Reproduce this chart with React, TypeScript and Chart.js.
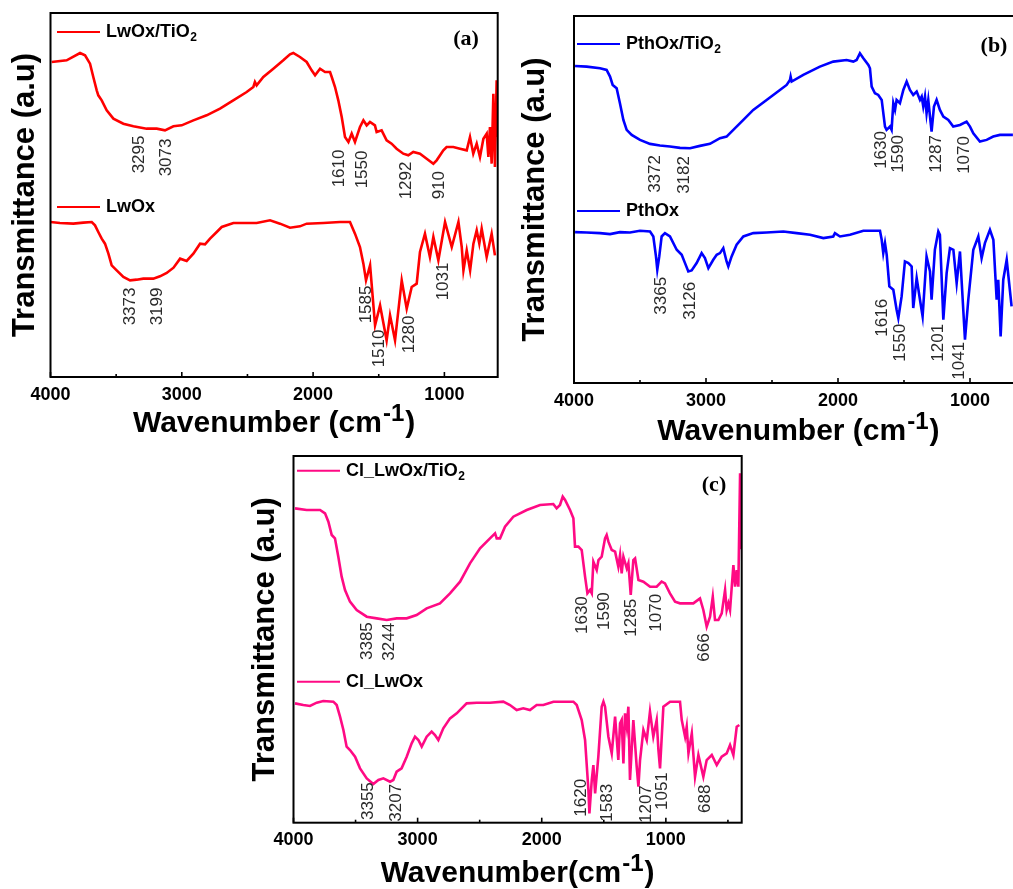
import { useEffect, useRef } from "react";
import { Chart, registerables } from "chart.js";

Chart.register(...registerables);

type Pt = [number, number];
type Peak = [string, number, number];

// ---------------- DATA ----------------
// Panel (a)
const LWOX_TIO2: Pt[] = [
  [3991, 94.5], [3877, 95.0], [3775, 97.2], [3737, 96.5], [3699, 94.0], [3674, 90.0], [3648, 86.0], [3636, 84.5],
  [3610, 83.0], [3572, 80.0], [3521, 77.5], [3445, 76.0], [3369, 75.2], [3268, 74.5], [3191, 74.5], [3128, 74.0],
  [3064, 75.2], [3001, 75.5], [2912, 77.0], [2811, 78.5], [2709, 80.5], [2608, 83.0], [2506, 85.5], [2455, 87.0],
  [2443, 88.5], [2430, 87.5], [2379, 90.0], [2303, 92.5], [2227, 95.0], [2176, 96.8], [2151, 97.2], [2100, 96.0],
  [2049, 94.5], [2011, 92.0], [1985, 90.5], [1947, 92.5], [1909, 91.5], [1871, 91.5], [1858, 90.0], [1833, 87.0],
  [1808, 83.0], [1782, 78.0], [1757, 72.0], [1731, 70.5], [1706, 73.0], [1681, 70.5], [1643, 75.0], [1617, 77.0],
  [1592, 75.5], [1567, 76.5], [1529, 75.5], [1516, 73.5], [1478, 74.0], [1440, 71.0], [1402, 70.0], [1364, 68.5],
  [1313, 67.0], [1275, 66.5], [1237, 67.5], [1186, 67.0], [1135, 65.5], [1084, 64.0], [1059, 65.0], [1033, 66.5],
  [1008, 68.0], [983, 69.0], [932, 69.0], [881, 68.5], [830, 68.0], [805, 72.0], [780, 67.0], [754, 70.0],
  [729, 66.0], [703, 71.5], [678, 73.0], [665, 66.0], [653, 75.0], [640, 64.0], [627, 85.0], [615, 63.0],
  [602, 89.0], [594, 72.0],
];
const LWOX: Pt[] = [
  [4000, 46.5], [3928, 46.2], [3826, 46.0], [3750, 46.3], [3686, 46.5], [3661, 45.5], [3636, 43.5], [3610, 41.5],
  [3585, 40.0], [3559, 37.0], [3534, 33.5], [3496, 32.0], [3445, 30.0], [3394, 29.0], [3344, 29.2], [3293, 29.5],
  [3217, 29.5], [3166, 30.2], [3115, 31.2], [3063, 32.8], [3013, 35.5], [2963, 34.8], [2912, 37.0], [2861, 40.0],
  [2823, 39.8], [2785, 41.5], [2734, 43.5], [2696, 45.0], [2607, 46.2], [2506, 46.2], [2430, 46.2], [2328, 47.0],
  [2252, 46.0], [2176, 44.8], [2100, 45.2], [2049, 46.0], [1922, 46.2], [1795, 46.5], [1719, 46.5], [1681, 43.0],
  [1643, 39.0], [1617, 34.0], [1597, 29.0], [1566, 33.5], [1528, 15.5], [1490, 21.5], [1440, 11.0], [1414, 18.5],
  [1376, 11.0], [1325, 29.0], [1287, 20.5], [1249, 27.0], [1211, 28.0], [1186, 37.5], [1148, 43.0], [1110, 36.0],
  [1084, 42.0], [1046, 35.0], [995, 46.5], [944, 39.0], [893, 46.5], [868, 39.0], [855, 32.0], [830, 38.0],
  [804, 32.0], [779, 40.0], [754, 44.0], [734, 40.0], [716, 44.5], [678, 36.0], [640, 43.0], [615, 36.5],
];
const PEAKS_A: Peak[] = [
  ["3295", 3326, 61.1], ["3073", 3115, 60.2], ["1610", 1803, 56.9], ["1550", 1628, 56.6], ["1292", 1293, 53.3],
  ["910", 1041, 53.3], ["3373", 3395, 15.5], ["3199", 3189, 15.5], ["1585", 1597, 16.1], ["1510", 1498, 2.9],
  ["1280", 1270, 7.1], ["1031", 1009, 23.0],
];

// Panel (b)
const PTHOX_TIO2: Pt[] = [
  [3992, 95.2], [3904, 95.0], [3803, 94.5], [3753, 94.0], [3727, 92.0], [3707, 89.5], [3677, 88.5], [3652, 84.0],
  [3626, 79.0], [3601, 76.0], [3563, 74.5], [3500, 73.0], [3424, 71.8], [3349, 71.3], [3273, 71.0], [3197, 70.6],
  [3121, 70.5], [3046, 71.2], [2970, 71.8], [2894, 73.5], [2844, 74.0], [2793, 76.0], [2717, 79.0], [2642, 82.0],
  [2541, 85.0], [2440, 88.0], [2389, 89.5], [2364, 91.0], [2359, 92.0], [2351, 90.5], [2263, 92.5], [2137, 95.0],
  [2036, 96.5], [1935, 97.0], [1884, 96.5], [1859, 97.0], [1834, 99.0], [1808, 97.5], [1770, 95.5], [1758, 94.5],
  [1745, 89.0], [1720, 87.0], [1695, 86.5], [1669, 85.0], [1644, 77.0], [1632, 76.0], [1606, 77.0], [1594, 76.0],
  [1581, 84.0], [1568, 82.0], [1556, 85.0], [1531, 84.0], [1505, 88.0], [1480, 90.5], [1455, 88.0], [1430, 86.5],
  [1404, 87.5], [1379, 85.0], [1366, 86.0], [1354, 83.0], [1341, 86.0], [1329, 81.0], [1316, 85.0], [1291, 75.5],
  [1273, 83.0], [1253, 85.0], [1228, 82.0], [1202, 80.0], [1164, 79.0], [1127, 77.0], [1076, 77.5], [1026, 78.5],
  [1000, 77.0], [975, 75.0], [925, 72.5], [874, 73.0], [824, 74.0], [773, 74.5], [722, 74.5], [675, 74.5],
];
const PTHOX: Pt[] = [
  [3992, 45.3], [3904, 45.2], [3803, 45.0], [3727, 44.7], [3652, 45.3], [3576, 45.2], [3500, 45.7], [3424, 45.5],
  [3399, 44.0], [3379, 38.0], [3369, 34.0], [3354, 38.0], [3336, 44.0], [3311, 45.0], [3273, 44.0], [3222, 40.0],
  [3184, 38.5], [3159, 36.0], [3134, 33.5], [3109, 33.8], [3071, 36.0], [3033, 39.0], [3008, 37.5], [2982, 34.5],
  [2945, 37.0], [2919, 38.5], [2894, 39.0], [2869, 40.5], [2844, 36.5], [2831, 35.0], [2806, 38.0], [2768, 41.5],
  [2717, 44.0], [2642, 45.0], [2541, 45.2], [2414, 45.5], [2313, 45.0], [2212, 44.5], [2111, 43.5], [2036, 44.0],
  [2023, 45.0], [1985, 44.0], [1909, 44.5], [1808, 45.7], [1682, 45.7], [1669, 43.0], [1657, 39.0], [1644, 42.0],
  [1631, 38.5], [1611, 29.0], [1581, 28.0], [1556, 22.0], [1543, 19.5], [1518, 26.0], [1493, 36.5], [1467, 36.0],
  [1442, 35.0], [1430, 22.5], [1404, 31.5], [1379, 25.0], [1359, 20.0], [1329, 38.0], [1303, 33.5], [1291, 25.0],
  [1266, 40.0], [1240, 45.5], [1228, 44.5], [1202, 19.0], [1177, 33.0], [1152, 40.5], [1126, 40.0], [1101, 30.0],
  [1076, 39.5], [1051, 22.0], [1038, 13.0], [1013, 25.0], [975, 40.0], [937, 44.0], [912, 37.5], [887, 42.0],
  [849, 46.0], [823, 43.0], [798, 25.0], [786, 31.0], [768, 14.0], [748, 31.0], [722, 37.0], [685, 23.0],
];
const PEAKS_B: Peak[] = [
  ["3372", 3386, 57.1], ["3182", 3167, 56.8], ["1630", 1674, 64.3], ["1590", 1545, 63.1], ["1287", 1258, 63.1],
  ["1070", 1045, 62.8], ["3365", 3341, 20.5], ["3126", 3121, 19.0], ["1616", 1667, 13.9], ["1550", 1530, 6.4],
  ["1201", 1242, 6.4], ["1041", 1083, 1.0],
];

// Panel (c)
const CL_LWOX_TIO2: Pt[] = [
  [3988, 94.3], [3894, 93.8], [3786, 93.8], [3746, 92.8], [3719, 90.3], [3692, 86.3], [3666, 85.3], [3639, 79.8],
  [3612, 73.8], [3585, 69.8], [3545, 66.3], [3491, 63.8], [3410, 61.8], [3330, 61.3], [3249, 60.8], [3169, 61.3],
  [3088, 61.3], [3008, 62.3], [2927, 64.3], [2820, 65.8], [2739, 68.8], [2658, 72.3], [2578, 77.8], [2497, 82.3],
  [2417, 85.3], [2376, 86.8], [2363, 85.3], [2336, 85.3], [2296, 88.8], [2229, 91.8], [2121, 93.8], [2014, 95.3],
  [1907, 95.6], [1880, 94.3], [1853, 95.3], [1831, 97.8], [1812, 96.8], [1772, 93.8], [1745, 91.3], [1732, 82.8],
  [1705, 82.8], [1678, 81.8], [1651, 73.8], [1632, 68.8], [1611, 69.8], [1597, 68.8], [1584, 78.3], [1557, 75.8],
  [1543, 78.8], [1517, 79.8], [1490, 85.3], [1477, 86.3], [1463, 84.3], [1436, 81.8], [1409, 81.3], [1383, 76.8],
  [1369, 80.3], [1356, 74.8], [1342, 79.8], [1315, 76.3], [1302, 77.8], [1283, 68.3], [1262, 78.8], [1248, 79.3],
  [1221, 72.8], [1181, 72.3], [1127, 70.8], [1074, 70.8], [1034, 72.3], [1007, 71.8], [967, 68.8], [926, 66.3],
  [886, 65.8], [833, 65.8], [779, 65.8], [725, 67.3], [698, 63.8], [671, 58.8], [644, 61.8], [622, 67.8],
  [604, 60.8], [577, 60.8], [550, 62.8], [523, 69.8], [510, 63.8], [496, 65.8], [483, 63.8], [456, 77.3],
  [442, 70.8], [429, 75.8], [416, 70.8], [402, 104.8], [396, 82.0],
];
const CL_LWOX: Pt[] = [
  [3988, 35.8], [3921, 35.3], [3867, 35.0], [3813, 36.0], [3760, 36.5], [3679, 36.3], [3652, 35.3], [3625, 31.8],
  [3598, 27.8], [3572, 22.8], [3545, 21.8], [3504, 19.8], [3464, 16.3], [3410, 13.3], [3357, 11.6], [3316, 12.8],
  [3276, 13.3], [3222, 12.3], [3196, 12.8], [3169, 15.3], [3129, 16.3], [3088, 19.8], [3048, 23.8], [3021, 25.8],
  [2994, 24.8], [2967, 22.8], [2927, 25.8], [2887, 27.3], [2860, 26.3], [2833, 24.8], [2793, 28.3], [2739, 31.3],
  [2685, 32.8], [2605, 35.8], [2524, 36.0], [2417, 36.0], [2310, 36.3], [2256, 35.3], [2202, 33.8], [2149, 34.3],
  [2095, 33.8], [2041, 35.3], [1987, 35.3], [1906, 36.3], [1745, 36.3], [1718, 35.3], [1678, 30.8], [1651, 24.8],
  [1624, 9.8], [1616, 2.8], [1597, 12.8], [1584, 17.3], [1570, 8.8], [1544, 19.8], [1517, 34.8], [1503, 36.3],
  [1490, 34.8], [1463, 25.8], [1436, 20.8], [1409, 31.8], [1383, 18.8], [1369, 29.8], [1356, 30.8], [1342, 17.8],
  [1329, 32.8], [1315, 28.8], [1302, 34.8], [1289, 12.8], [1262, 30.8], [1235, 16.8], [1221, 10.8], [1208, 18.8],
  [1181, 27.8], [1154, 24.8], [1128, 33.3], [1101, 25.8], [1074, 30.8], [1060, 21.8], [1047, 16.3], [1020, 34.8],
  [966, 36.3], [886, 36.3], [872, 30.8], [845, 25.8], [832, 28.8], [818, 20.8], [791, 26.8], [765, 13.8],
  [738, 20.3], [698, 13.8], [671, 18.8], [630, 20.3], [590, 17.3], [550, 19.8], [510, 20.8], [483, 23.3],
  [456, 20.3], [429, 28.8], [408, 29.3],
];
const PEAKS_C: Peak[] = [
  ["3385", 3404, 48.8], ["3244", 3230, 48.6], ["1630", 1671, 56.6], ["1590", 1498, 57.8], ["1285", 1280, 55.8],
  ["1070", 1077, 57.3], ["666", 692, 48.3], ["3355", 3400, 0.8], ["3207", 3174, 0.3], ["1620", 1685, 1.8],
  ["1583", 1470, 0.3], ["1207", 1160, -0.1], ["1051", 1031, 3.8], ["688", 684, 2.9],
];

// x-axis ticks (every 500, labelled every 1000)
const X_TICKS = [4000, 3500, 3000, 2500, 2000, 1500, 1000, 500];
const X_LABELLED = [4000, 3000, 2000, 1000];
const X_MAX = 4000;

// ---------------- CONFIG ----------------
const SANS = "'Liberation Sans', Arial, Helvetica, sans-serif";
const SERIF = "'Liberation Serif', 'Times New Roman', serif";

interface PanelCfg {
  id: string;
  left: number; top: number; w: number; h: number;
  pad: { left: number; top: number; right: number; bottom: number };
  xMin: number; yMax: number;
  color: string;
  series: { label: string; data: Pt[]; legendY: number }[];
  legendX: [number, number, number];
  peaks: Peak[];
  tag: string; tagDx: number; tagDy: number;
  yTitleDx: number;
  xTitle: string; xTitleDy: number;
}

const PANELS: PanelCfg[] = [
  {
    id: "a", left: 0, top: 0, w: 510, h: 440,
    pad: { left: 50.5, top: 13, right: 12.3, bottom: 33 },
    xMin: 594, yMax: 109.2, color: "#ff0000",
    series: [
      { label: "LwOx/TiO2", data: LWOX_TIO2, legendY: 19 },
      { label: "LwOx", data: LWOX, legendY: 194 },
    ],
    legendX: [6.5, 49.5, 55.5],
    peaks: PEAKS_A,
    tag: "(a)", tagDx: -31.7, tagDy: 26,
    yTitleDx: -25.5, xTitle: "Wavenumber (cm", xTitleDy: 55,
  },
  {
    id: "b", left: 520, top: 0, w: 520, h: 450,
    pad: { left: 54, top: 16, right: 17.2, bottom: 37 },
    xMin: 600, yMax: 110.2, color: "#0000ff",
    series: [
      { label: "PthOx/TiO2", data: PTHOX_TIO2, legendY: 28 },
      { label: "PthOx", data: PTHOX, legendY: 195 },
    ],
    legendX: [3, 46, 52],
    peaks: PEAKS_B,
    tag: "(b)", tagDx: -28.8, tagDy: 30,
    yTitleDx: -39, xTitle: "Wavenumber (cm", xTitleDy: 57,
  },
  {
    id: "c", left: 240, top: 450, w: 520, h: 439,
    pad: { left: 53.5, top: 6, right: 18.3, bottom: 36.3 },
    xMin: 389, yMax: 110, color: "#ff0a84",
    series: [
      { label: "Cl_LwOx/TiO2", data: CL_LWOX_TIO2, legendY: 14.7 },
      { label: "Cl_LwOx", data: CL_LWOX, legendY: 225.7 },
    ],
    legendX: [3.5, 46.5, 52.5],
    peaks: PEAKS_C,
    tag: "(c)", tagDx: -27.7, tagDy: 29,
    yTitleDx: -28.5, xTitle: "Wavenumber(cm", xTitleDy: 59,
  },
];

function decorPlugin(cfg: PanelCfg) {
  return {
    id: "ftirDecor" + cfg.id,
    afterDraw(chart: any) {
      const { ctx, chartArea: a, scales } = chart;
      const xs = scales.x;
      const ys = scales.y;
      ctx.save();
      // frame
      ctx.strokeStyle = "#000";
      ctx.lineWidth = 2;
      ctx.strokeRect(a.left, a.top, a.right - a.left, a.bottom - a.top);
      // inward ticks
      ctx.lineWidth = 1.6;
      for (const t of xs.ticks) {
        const px = xs.getPixelForValue(t.value);
        const major = X_LABELLED.includes(t.value);
        ctx.beginPath();
        ctx.moveTo(px, a.bottom);
        ctx.lineTo(px, a.bottom - (major ? 5 : 3));
        ctx.stroke();
      }
      // legends
      const [l0, l1, tx] = cfg.legendX;
      cfg.series.forEach((s) => {
        const y = a.top + s.legendY;
        ctx.strokeStyle = cfg.color;
        ctx.lineWidth = 2;
        ctx.beginPath();
        ctx.moveTo(a.left + l0, y);
        ctx.lineTo(a.left + l1, y);
        ctx.stroke();
        ctx.fillStyle = "#000";
        ctx.textBaseline = "middle";
        ctx.textAlign = "left";
        ctx.font = `bold 18px ${SANS}`;
        let label = s.label;
        let sub = "";
        if (label.endsWith("TiO2")) {
          label = label.slice(0, -1);
          sub = "2";
        }
        ctx.fillText(label, a.left + tx, y);
        if (sub) {
          const w = ctx.measureText(label).width;
          ctx.font = `bold 12px ${SANS}`;
          ctx.fillText(sub, a.left + tx + w + 0.5, y + 6);
        }
      });
      // peak labels
      ctx.fillStyle = "#2a2a2a";
      ctx.font = `17px ${SANS}`;
      ctx.textAlign = "left";
      ctx.textBaseline = "middle";
      for (const [txt, wn, v] of cfg.peaks) {
        const px = xs.getPixelForValue(wn);
        const py = ys.getPixelForValue(v);
        ctx.save();
        ctx.translate(px, py);
        ctx.rotate(-Math.PI / 2);
        ctx.fillText(txt, 0, 0);
        ctx.restore();
      }
      // panel tag
      ctx.fillStyle = "#000";
      ctx.font = `bold 22px ${SERIF}`;
      ctx.textAlign = "center";
      ctx.textBaseline = "middle";
      ctx.fillText(cfg.tag, a.right + cfg.tagDx, a.top + cfg.tagDy);
      // y title
      ctx.save();
      ctx.translate(a.left + cfg.yTitleDx, (a.top + a.bottom) / 2);
      ctx.rotate(-Math.PI / 2);
      ctx.font = `bold 31px ${SANS}`;
      ctx.textAlign = "center";
      ctx.textBaseline = "middle";
      ctx.fillText("Transmittance (a.u)", 0, 0);
      ctx.restore();
      // x title with superscript
      const mainFont = `bold 30px ${SANS}`;
      const supFont = `bold 24px ${SANS}`;
      ctx.font = mainFont;
      const w1 = ctx.measureText(cfg.xTitle).width;
      const w3 = ctx.measureText(")").width;
      ctx.font = supFont;
      const w2 = ctx.measureText("-1").width;
      const total = w1 + w2 + w3 + 2;
      const cx = (a.left + a.right) / 2;
      let x = cx - total / 2;
      const base = a.bottom + cfg.xTitleDy;
      ctx.textAlign = "left";
      ctx.textBaseline = "alphabetic";
      ctx.font = mainFont;
      ctx.fillText(cfg.xTitle, x, base);
      x += w1 + 1;
      ctx.font = supFont;
      ctx.fillText("-1", x, base - 11);
      x += w2 + 1;
      ctx.font = mainFont;
      ctx.fillText(")", x, base);
      ctx.restore();
    },
  };
}

function Panel({ cfg }: { cfg: PanelCfg }) {
  const ref = useRef<HTMLCanvasElement>(null);
  useEffect(() => {
    const canvas = ref.current;
    if (!canvas) return;
    const chart = new Chart(canvas, {
      type: "line",
      data: {
        datasets: cfg.series.map((s) => ({
          label: s.label,
          data: s.data.map(([x, y]) => ({ x, y })),
          borderColor: cfg.color,
          backgroundColor: cfg.color,
          borderWidth: 2.6,
          pointRadius: 0,
          tension: 0,
          fill: false,
        })),
      },
      options: {
        animation: false,
        responsive: false,
        devicePixelRatio: 1,
        layout: { padding: cfg.pad },
        plugins: {
          legend: { display: false },
          tooltip: { enabled: false },
          title: { display: false },
        },
        scales: {
          x: {
            type: "linear",
            reverse: true,
            min: cfg.xMin,
            max: X_MAX,
            afterBuildTicks: (scale: any) => {
              scale.ticks = X_TICKS.filter((v) => v >= cfg.xMin && v <= X_MAX).map((v) => ({ value: v }));
            },
            afterFit: (scale: any) => {
              scale.height = 30;
            },
            grid: { display: false },
            border: { display: false },
            ticks: {
              autoSkip: false,
              maxRotation: 0,
              padding: -1,
              color: "#000",
              font: { family: SANS, size: 18, weight: "bold" },
              callback: (v: any) => (X_LABELLED.includes(Number(v)) ? String(v) : ""),
            },
          },
          y: { type: "linear", display: false, min: 0, max: cfg.yMax },
        },
      },
      plugins: [decorPlugin(cfg)],
    } as any);
    return () => chart.destroy();
  }, [cfg]);
  return (
    <canvas
      ref={ref}
      width={cfg.w}
      height={cfg.h}
      style={{ position: "absolute", left: cfg.left, top: cfg.top, width: cfg.w, height: cfg.h }}
    />
  );
}

export default function App() {
  return (
    <div
      style={{
        position: "absolute",
        left: 0,
        top: 0,
        width: 1013,
        height: 889,
        overflow: "hidden",
        background: "#fff",
      }}
    >
      {PANELS.map((p) => (
        <Panel key={p.id} cfg={p} />
      ))}
    </div>
  );
}
